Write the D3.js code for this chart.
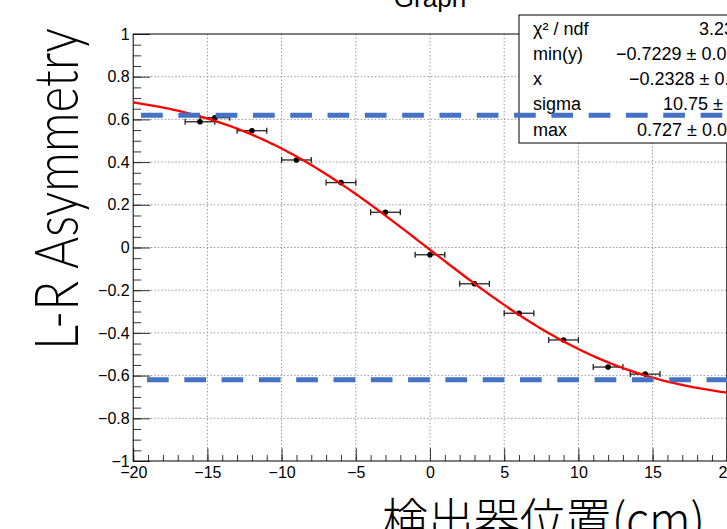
<!DOCTYPE html>
<html>
<head>
<meta charset="utf-8">
<script src="https://cdn.jsdelivr.net/npm/d3@7"></script>
<style>
  body { margin: 0; background: #fff; }
  svg { display: block; }
</style>
</head>
<body>
<svg id="chart" width="727" height="529"></svg>
<script>
// measured points (detector position, L-R asymmetry)
var posX = [-15.5, -14.5, -12, -9, -6, -3, 0, 3, 6, 9, 12, 14.5];
var asym = [0.589, 0.608, 0.547, 0.410, 0.304, 0.165, -0.034, -0.170, -0.308, -0.433, -0.560, -0.593];
var posErr = [1, 1, 1, 1, 1, 1, 1, 1, 1, 1, 1, 1];

// fit parameters (from stats box)
var fitMin = -0.7229, fitMax = 0.727, fitX0 = -0.2328, fitSigma = 10.75;

var statLabels = ['\u03c7\u00b2 / ndf', 'min(y)', 'x', 'sigma', 'max'];
var statValues = ['3.234 / 8', '\u22120.7229 \u00b1 0.0266', '\u22120.2328 \u00b1 0.381', '10.75 \u00b1 0.89', '0.727 \u00b1 0.027'];
var statValueX = [699, 616, 629, 663, 637];

var xMajor = [-20, -15, -10, -5, 0, 5, 10, 15, 20];
var yMajor = [-1, -0.8, -0.6, -0.4, -0.2, 0, 0.2, 0.4, 0.6, 0.8, 1];
var blueLevels = [0.62, -0.62];
var blueStart = [-19.47, -19.07];

var svg = d3.select('#chart');
var x = d3.scaleLinear().domain([-20, 20]).range([133.2, 726.8]);
var y = d3.scaleLinear().domain([-1, 1]).range([461, 34]);

svg.append('rect').attr('width', 727).attr('height', 529).attr('fill', '#fff');

// grid
svg.append('g').selectAll('line')
  .data(xMajor.slice(1, -1))
  .enter().append('line')
  .attr('x1', d => x(d)).attr('x2', d => x(d))
  .attr('y1', y(1)).attr('y2', y(-1))
  .attr('stroke', '#999').attr('stroke-dasharray', '1.5,2');
svg.append('g').selectAll('line')
  .data(yMajor.slice(1, -1))
  .enter().append('line')
  .attr('x1', x(-20)).attr('x2', x(20))
  .attr('y1', d => y(d)).attr('y2', d => y(d))
  .attr('stroke', '#999').attr('stroke-dasharray', '1.5,2');

// axes (ticks point inward)
var fmt = d3.format('~g');
svg.append('g').attr('transform', 'translate(0,' + y(-1) + ')')
  .call(d3.axisBottom(x).tickValues(xMajor).tickSize(-12.7).tickPadding(6).tickFormat(fmt));
svg.append('g').attr('transform', 'translate(0,' + y(-1) + ')')
  .call(d3.axisBottom(x).tickValues(d3.range(-20, 21, 1)).tickSize(-6).tickFormat(''));
svg.append('g').attr('transform', 'translate(' + x(-20) + ',0)')
  .call(d3.axisLeft(y).tickValues(yMajor).tickSize(-17).tickPadding(3.5).tickFormat(fmt));
svg.append('g').attr('transform', 'translate(' + x(-20) + ',0)')
  .call(d3.axisLeft(y).tickValues(d3.range(-20, 21).map(d => d * 0.05)).tickSize(-8).tickFormat(''));

svg.selectAll('.domain').remove();
svg.selectAll('.tick line').attr('stroke', '#333');
svg.selectAll('.tick text')
  .attr('font-family', 'Liberation Sans, Arial, sans-serif')
  .attr('font-size', 16).attr('fill', '#000');

// frame
svg.append('rect')
  .attr('x', x(-20)).attr('y', y(1))
  .attr('width', x(20) - x(-20)).attr('height', y(-1) - y(1))
  .attr('fill', 'none').attr('stroke', '#000');

// title
svg.append('text').attr('x', 430).attr('y', 7)
  .attr('text-anchor', 'middle')
  .attr('font-family', 'Liberation Sans, Arial, sans-serif')
  .attr('font-size', 26).text('Graph');

var pts = posX.map((d, i) => ({x: d, y: asym[i], e: posErr[i]}));

// error bars
var eb = svg.append('g').attr('stroke', '#222').attr('stroke-width', 1.3);
eb.selectAll('.h').data(pts).enter().append('line')
  .attr('x1', d => x(d.x - d.e)).attr('x2', d => x(d.x + d.e))
  .attr('y1', d => y(d.y)).attr('y2', d => y(d.y));
eb.selectAll('.l').data(pts).enter().append('line')
  .attr('x1', d => x(d.x - d.e)).attr('x2', d => x(d.x - d.e))
  .attr('y1', d => y(d.y) - 3).attr('y2', d => y(d.y) + 3);
eb.selectAll('.r').data(pts).enter().append('line')
  .attr('x1', d => x(d.x + d.e)).attr('x2', d => x(d.x + d.e))
  .attr('y1', d => y(d.y) - 3).attr('y2', d => y(d.y) + 3);

svg.append('g').selectAll('circle').data(pts).enter().append('circle')
  .attr('cx', d => x(d.x)).attr('cy', d => y(d.y)).attr('r', 2.8).attr('fill', '#000');

// fit curve: min + (max-min) * 0.5 * erfc((x - x0) / (sqrt2 sigma))
function erf(z) {
  var s = z < 0 ? -1 : 1; z = Math.abs(z);
  var t = 1 / (1 + 0.3275911 * z);
  var p = t * (0.254829592 + t * (-0.284496736 + t * (1.421413741 + t * (-1.453152027 + t * 1.061405429))));
  return s * (1 - p * Math.exp(-z * z));
}
function fitFn(v) {
  return fitMin + (fitMax - fitMin) * 0.5 * (1 - erf((v - fitX0) / (Math.SQRT2 * fitSigma)));
}
svg.append('path')
  .datum(d3.range(-20, 20.001, 0.2))
  .attr('fill', 'none').attr('stroke', '#f00').attr('stroke-width', 2.3)
  .attr('d', d3.line().x(d => x(d)).y(d => y(fitFn(d))));

// stats box
svg.append('rect').attr('x', 519).attr('y', 15).attr('width', 230).attr('height', 128)
  .attr('fill', '#fff').attr('stroke', '#000');
var st = svg.append('g').attr('font-family', 'Liberation Sans, Arial, sans-serif').attr('font-size', 18);
st.selectAll('.lab').data(statLabels).enter().append('text')
  .attr('x', 533).attr('y', (d, i) => 34.5 + i * 25.3).text(d => d);
st.selectAll('.val').data(statValues).enter().append('text')
  .attr('x', (d, i) => statValueX[i]).attr('y', (d, i) => 34.5 + i * 25.3).text(d => d);

// blue dashed guide lines
svg.append('g').selectAll('line').data(blueLevels).enter().append('line')
  .attr('x1', (d, i) => x(blueStart[i])).attr('x2', x(22))
  .attr('y1', d => y(d)).attr('y2', d => y(d))
  .attr('stroke', '#4472C4').attr('stroke-width', 5)
  .attr('stroke-dasharray', '21.7,15.6');

// axis titles
svg.append('text')
  .attr('transform', 'translate(78,350) rotate(-90)')
  .attr('font-family', 'Lato, Open Sans, sans-serif')
  .attr('font-weight', 300)
  .attr('font-size', 62)
  .attr('textLength', 322).attr('lengthAdjust', 'spacingAndGlyphs')
  .text('L-R Asymmetry');
svg.append('text')
  .attr('x', 382).attr('y', 538)
  .attr('font-family', 'Noto Sans CJK JP, sans-serif')
  .attr('font-weight', 300)
  .attr('font-size', 48)
  .attr('textLength', 323).attr('lengthAdjust', 'spacingAndGlyphs')
  .text('検出器位置(cm)');
</script>
</body>
</html>
